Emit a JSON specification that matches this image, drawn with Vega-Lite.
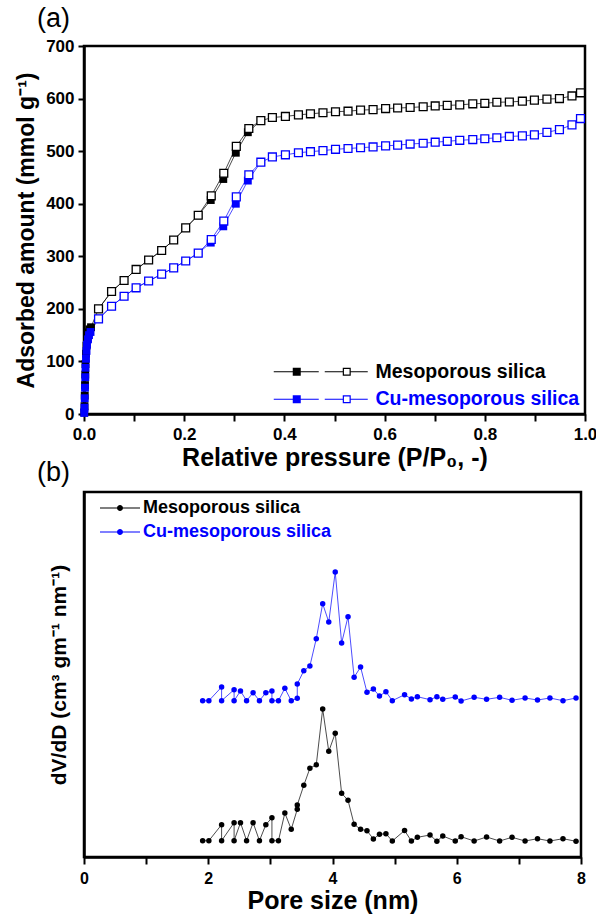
{
  "$schema": "https://vega.github.io/schema/vega-lite/v6.json",
  "padding": {"left": 13, "top": 3, "right": 6, "bottom": 2},
  "spacing": -15,
  "config": {
    "font": "Liberation Sans",
    "view": {"stroke": "black", "strokeWidth": 2.5},
    "axis": {
      "grid": false, "domainColor": "black", "domainWidth": 2.5,
      "tickColor": "black", "tickWidth": 2, "labelFlush": false,
      "labelFont": "Liberation Sans", "labelFontWeight": "bold", "labelColor": "black", "labelFontSize": 17,
      "titleFont": "Liberation Sans", "titleFontWeight": "bold", "titleColor": "black"
    }
  },
  "datasets": {
    "iso": [
      {"s":"Mesoporous silica","b":"ads","p":0.0005,"q":3},
      {"s":"Mesoporous silica","b":"ads","p":0.001,"q":15},
      {"s":"Mesoporous silica","b":"ads","p":0.0015,"q":35},
      {"s":"Mesoporous silica","b":"ads","p":0.002,"q":55},
      {"s":"Mesoporous silica","b":"ads","p":0.0025,"q":75},
      {"s":"Mesoporous silica","b":"ads","p":0.003,"q":95},
      {"s":"Mesoporous silica","b":"ads","p":0.004,"q":115},
      {"s":"Mesoporous silica","b":"ads","p":0.005,"q":130},
      {"s":"Mesoporous silica","b":"ads","p":0.007,"q":145},
      {"s":"Mesoporous silica","b":"ads","p":0.009,"q":155},
      {"s":"Mesoporous silica","b":"ads","p":0.011,"q":161},
      {"s":"Mesoporous silica","b":"ads","p":0.014,"q":165},
      {"s":"Mesoporous silica","b":"ads","p":0.029,"q":200},
      {"s":"Mesoporous silica","b":"ads","p":0.055,"q":233},
      {"s":"Mesoporous silica","b":"ads","p":0.080,"q":254},
      {"s":"Mesoporous silica","b":"ads","p":0.104,"q":275},
      {"s":"Mesoporous silica","b":"ads","p":0.129,"q":293},
      {"s":"Mesoporous silica","b":"ads","p":0.155,"q":311},
      {"s":"Mesoporous silica","b":"ads","p":0.179,"q":331},
      {"s":"Mesoporous silica","b":"ads","p":0.203,"q":354},
      {"s":"Mesoporous silica","b":"ads","p":0.228,"q":378},
      {"s":"Mesoporous silica","b":"ads","p":0.253,"q":407},
      {"s":"Mesoporous silica","b":"ads","p":0.278,"q":447},
      {"s":"Mesoporous silica","b":"ads","p":0.303,"q":497},
      {"s":"Mesoporous silica","b":"ads","p":0.327,"q":536},
      {"s":"Mesoporous silica","b":"ads","p":0.353,"q":558},
      {"s":"Mesoporous silica","b":"des","p":0.029,"q":200},
      {"s":"Mesoporous silica","b":"des","p":0.055,"q":233},
      {"s":"Mesoporous silica","b":"des","p":0.080,"q":254},
      {"s":"Mesoporous silica","b":"des","p":0.104,"q":275},
      {"s":"Mesoporous silica","b":"des","p":0.129,"q":293},
      {"s":"Mesoporous silica","b":"des","p":0.155,"q":311},
      {"s":"Mesoporous silica","b":"des","p":0.179,"q":331},
      {"s":"Mesoporous silica","b":"des","p":0.203,"q":354},
      {"s":"Mesoporous silica","b":"des","p":0.228,"q":378},
      {"s":"Mesoporous silica","b":"des","p":0.254,"q":415},
      {"s":"Mesoporous silica","b":"des","p":0.279,"q":458},
      {"s":"Mesoporous silica","b":"des","p":0.304,"q":509},
      {"s":"Mesoporous silica","b":"des","p":0.329,"q":543},
      {"s":"Mesoporous silica","b":"des","p":0.353,"q":558},
      {"s":"Mesoporous silica","b":"des","p":0.376,"q":564},
      {"s":"Mesoporous silica","b":"des","p":0.402,"q":566},
      {"s":"Mesoporous silica","b":"des","p":0.428,"q":569},
      {"s":"Mesoporous silica","b":"des","p":0.452,"q":571},
      {"s":"Mesoporous silica","b":"des","p":0.477,"q":573},
      {"s":"Mesoporous silica","b":"des","p":0.502,"q":575},
      {"s":"Mesoporous silica","b":"des","p":0.527,"q":576},
      {"s":"Mesoporous silica","b":"des","p":0.552,"q":578},
      {"s":"Mesoporous silica","b":"des","p":0.577,"q":579},
      {"s":"Mesoporous silica","b":"des","p":0.602,"q":581},
      {"s":"Mesoporous silica","b":"des","p":0.626,"q":582},
      {"s":"Mesoporous silica","b":"des","p":0.651,"q":583},
      {"s":"Mesoporous silica","b":"des","p":0.677,"q":584.5},
      {"s":"Mesoporous silica","b":"des","p":0.701,"q":586},
      {"s":"Mesoporous silica","b":"des","p":0.725,"q":587},
      {"s":"Mesoporous silica","b":"des","p":0.750,"q":588},
      {"s":"Mesoporous silica","b":"des","p":0.776,"q":590},
      {"s":"Mesoporous silica","b":"des","p":0.800,"q":591},
      {"s":"Mesoporous silica","b":"des","p":0.824,"q":593},
      {"s":"Mesoporous silica","b":"des","p":0.849,"q":593.5},
      {"s":"Mesoporous silica","b":"des","p":0.875,"q":595},
      {"s":"Mesoporous silica","b":"des","p":0.899,"q":597},
      {"s":"Mesoporous silica","b":"des","p":0.924,"q":599},
      {"s":"Mesoporous silica","b":"des","p":0.949,"q":600},
      {"s":"Mesoporous silica","b":"des","p":0.974,"q":605},
      {"s":"Mesoporous silica","b":"des","p":0.991,"q":611},
      {"s":"Cu-mesoporous silica","b":"ads","p":0.0005,"q":2},
      {"s":"Cu-mesoporous silica","b":"ads","p":0.001,"q":12},
      {"s":"Cu-mesoporous silica","b":"ads","p":0.0015,"q":30},
      {"s":"Cu-mesoporous silica","b":"ads","p":0.002,"q":50},
      {"s":"Cu-mesoporous silica","b":"ads","p":0.0025,"q":70},
      {"s":"Cu-mesoporous silica","b":"ads","p":0.003,"q":88},
      {"s":"Cu-mesoporous silica","b":"ads","p":0.004,"q":105},
      {"s":"Cu-mesoporous silica","b":"ads","p":0.005,"q":120},
      {"s":"Cu-mesoporous silica","b":"ads","p":0.006,"q":132},
      {"s":"Cu-mesoporous silica","b":"ads","p":0.008,"q":142},
      {"s":"Cu-mesoporous silica","b":"ads","p":0.010,"q":150},
      {"s":"Cu-mesoporous silica","b":"ads","p":0.013,"q":156},
      {"s":"Cu-mesoporous silica","b":"ads","p":0.029,"q":181},
      {"s":"Cu-mesoporous silica","b":"ads","p":0.055,"q":205},
      {"s":"Cu-mesoporous silica","b":"ads","p":0.080,"q":224},
      {"s":"Cu-mesoporous silica","b":"ads","p":0.104,"q":240},
      {"s":"Cu-mesoporous silica","b":"ads","p":0.129,"q":253},
      {"s":"Cu-mesoporous silica","b":"ads","p":0.155,"q":266},
      {"s":"Cu-mesoporous silica","b":"ads","p":0.179,"q":278},
      {"s":"Cu-mesoporous silica","b":"ads","p":0.203,"q":291},
      {"s":"Cu-mesoporous silica","b":"ads","p":0.228,"q":306},
      {"s":"Cu-mesoporous silica","b":"ads","p":0.253,"q":326},
      {"s":"Cu-mesoporous silica","b":"ads","p":0.278,"q":357},
      {"s":"Cu-mesoporous silica","b":"ads","p":0.303,"q":400},
      {"s":"Cu-mesoporous silica","b":"ads","p":0.327,"q":444},
      {"s":"Cu-mesoporous silica","b":"ads","p":0.353,"q":479},
      {"s":"Cu-mesoporous silica","b":"des","p":0.029,"q":181},
      {"s":"Cu-mesoporous silica","b":"des","p":0.055,"q":205},
      {"s":"Cu-mesoporous silica","b":"des","p":0.080,"q":224},
      {"s":"Cu-mesoporous silica","b":"des","p":0.104,"q":240},
      {"s":"Cu-mesoporous silica","b":"des","p":0.129,"q":253},
      {"s":"Cu-mesoporous silica","b":"des","p":0.155,"q":266},
      {"s":"Cu-mesoporous silica","b":"des","p":0.179,"q":278},
      {"s":"Cu-mesoporous silica","b":"des","p":0.203,"q":291},
      {"s":"Cu-mesoporous silica","b":"des","p":0.228,"q":306},
      {"s":"Cu-mesoporous silica","b":"des","p":0.254,"q":332},
      {"s":"Cu-mesoporous silica","b":"des","p":0.279,"q":367},
      {"s":"Cu-mesoporous silica","b":"des","p":0.304,"q":413},
      {"s":"Cu-mesoporous silica","b":"des","p":0.329,"q":455},
      {"s":"Cu-mesoporous silica","b":"des","p":0.353,"q":479},
      {"s":"Cu-mesoporous silica","b":"des","p":0.376,"q":489},
      {"s":"Cu-mesoporous silica","b":"des","p":0.402,"q":493},
      {"s":"Cu-mesoporous silica","b":"des","p":0.428,"q":497},
      {"s":"Cu-mesoporous silica","b":"des","p":0.452,"q":499},
      {"s":"Cu-mesoporous silica","b":"des","p":0.477,"q":501},
      {"s":"Cu-mesoporous silica","b":"des","p":0.502,"q":503.5},
      {"s":"Cu-mesoporous silica","b":"des","p":0.527,"q":505},
      {"s":"Cu-mesoporous silica","b":"des","p":0.552,"q":506.5},
      {"s":"Cu-mesoporous silica","b":"des","p":0.577,"q":508},
      {"s":"Cu-mesoporous silica","b":"des","p":0.602,"q":510},
      {"s":"Cu-mesoporous silica","b":"des","p":0.626,"q":511.5},
      {"s":"Cu-mesoporous silica","b":"des","p":0.651,"q":513.5},
      {"s":"Cu-mesoporous silica","b":"des","p":0.677,"q":515},
      {"s":"Cu-mesoporous silica","b":"des","p":0.701,"q":517},
      {"s":"Cu-mesoporous silica","b":"des","p":0.725,"q":518.7},
      {"s":"Cu-mesoporous silica","b":"des","p":0.750,"q":520.6},
      {"s":"Cu-mesoporous silica","b":"des","p":0.776,"q":522},
      {"s":"Cu-mesoporous silica","b":"des","p":0.800,"q":523.6},
      {"s":"Cu-mesoporous silica","b":"des","p":0.824,"q":525.5},
      {"s":"Cu-mesoporous silica","b":"des","p":0.849,"q":528},
      {"s":"Cu-mesoporous silica","b":"des","p":0.875,"q":529},
      {"s":"Cu-mesoporous silica","b":"des","p":0.899,"q":531},
      {"s":"Cu-mesoporous silica","b":"des","p":0.924,"q":535.7},
      {"s":"Cu-mesoporous silica","b":"des","p":0.949,"q":541},
      {"s":"Cu-mesoporous silica","b":"des","p":0.974,"q":550},
      {"s":"Cu-mesoporous silica","b":"des","p":0.991,"q":562}
    ],
    "psd": [
      {"s":"Mesoporous silica","d":1.91,"v":0.163},
      {"s":"Mesoporous silica","d":2.01,"v":0.163},
      {"s":"Mesoporous silica","d":2.215,"v":0.323},
      {"s":"Mesoporous silica","d":2.215,"v":0.163},
      {"s":"Mesoporous silica","d":2.416,"v":0.343},
      {"s":"Mesoporous silica","d":2.416,"v":0.163},
      {"s":"Mesoporous silica","d":2.519,"v":0.343},
      {"s":"Mesoporous silica","d":2.617,"v":0.163},
      {"s":"Mesoporous silica","d":2.722,"v":0.343},
      {"s":"Mesoporous silica","d":2.824,"v":0.163},
      {"s":"Mesoporous silica","d":2.927,"v":0.323},
      {"s":"Mesoporous silica","d":3.025,"v":0.393},
      {"s":"Mesoporous silica","d":3.025,"v":0.163},
      {"s":"Mesoporous silica","d":3.13,"v":0.163},
      {"s":"Mesoporous silica","d":3.233,"v":0.44},
      {"s":"Mesoporous silica","d":3.336,"v":0.277},
      {"s":"Mesoporous silica","d":3.433,"v":0.477},
      {"s":"Mesoporous silica","d":3.433,"v":0.52},
      {"s":"Mesoporous silica","d":3.538,"v":0.717},
      {"s":"Mesoporous silica","d":3.636,"v":0.887},
      {"s":"Mesoporous silica","d":3.739,"v":0.923},
      {"s":"Mesoporous silica","d":3.842,"v":1.48},
      {"s":"Mesoporous silica","d":3.94,"v":1.057},
      {"s":"Mesoporous silica","d":4.044,"v":1.237},
      {"s":"Mesoporous silica","d":4.147,"v":0.637},
      {"s":"Mesoporous silica","d":4.25,"v":0.567},
      {"s":"Mesoporous silica","d":4.348,"v":0.327},
      {"s":"Mesoporous silica","d":4.452,"v":0.277},
      {"s":"Mesoporous silica","d":4.555,"v":0.263},
      {"s":"Mesoporous silica","d":4.658,"v":0.18},
      {"s":"Mesoporous silica","d":4.756,"v":0.227},
      {"s":"Mesoporous silica","d":4.86,"v":0.233},
      {"s":"Mesoporous silica","d":4.963,"v":0.16},
      {"s":"Mesoporous silica","d":5.16,"v":0.265},
      {"s":"Mesoporous silica","d":5.27,"v":0.16},
      {"s":"Mesoporous silica","d":5.366,"v":0.197},
      {"s":"Mesoporous silica","d":5.57,"v":0.22},
      {"s":"Mesoporous silica","d":5.68,"v":0.157},
      {"s":"Mesoporous silica","d":5.775,"v":0.21},
      {"s":"Mesoporous silica","d":5.976,"v":0.16},
      {"s":"Mesoporous silica","d":6.07,"v":0.203},
      {"s":"Mesoporous silica","d":6.28,"v":0.16},
      {"s":"Mesoporous silica","d":6.48,"v":0.2},
      {"s":"Mesoporous silica","d":6.69,"v":0.16},
      {"s":"Mesoporous silica","d":6.89,"v":0.197},
      {"s":"Mesoporous silica","d":7.1,"v":0.16},
      {"s":"Mesoporous silica","d":7.3,"v":0.183},
      {"s":"Mesoporous silica","d":7.5,"v":0.16},
      {"s":"Mesoporous silica","d":7.71,"v":0.183},
      {"s":"Mesoporous silica","d":7.92,"v":0.157},
      {"s":"Cu-mesoporous silica","d":1.91,"v":1.563},
      {"s":"Cu-mesoporous silica","d":2.01,"v":1.563},
      {"s":"Cu-mesoporous silica","d":2.215,"v":1.70},
      {"s":"Cu-mesoporous silica","d":2.215,"v":1.563},
      {"s":"Cu-mesoporous silica","d":2.416,"v":1.673},
      {"s":"Cu-mesoporous silica","d":2.416,"v":1.563},
      {"s":"Cu-mesoporous silica","d":2.519,"v":1.66},
      {"s":"Cu-mesoporous silica","d":2.617,"v":1.563},
      {"s":"Cu-mesoporous silica","d":2.722,"v":1.643},
      {"s":"Cu-mesoporous silica","d":2.824,"v":1.563},
      {"s":"Cu-mesoporous silica","d":2.927,"v":1.643},
      {"s":"Cu-mesoporous silica","d":3.025,"v":1.66},
      {"s":"Cu-mesoporous silica","d":3.025,"v":1.563},
      {"s":"Cu-mesoporous silica","d":3.13,"v":1.563},
      {"s":"Cu-mesoporous silica","d":3.233,"v":1.687},
      {"s":"Cu-mesoporous silica","d":3.336,"v":1.563},
      {"s":"Cu-mesoporous silica","d":3.433,"v":1.587},
      {"s":"Cu-mesoporous silica","d":3.433,"v":1.73},
      {"s":"Cu-mesoporous silica","d":3.538,"v":1.863},
      {"s":"Cu-mesoporous silica","d":3.636,"v":1.91},
      {"s":"Cu-mesoporous silica","d":3.739,"v":2.183},
      {"s":"Cu-mesoporous silica","d":3.842,"v":2.533},
      {"s":"Cu-mesoporous silica","d":3.94,"v":2.35},
      {"s":"Cu-mesoporous silica","d":4.044,"v":2.85},
      {"s":"Cu-mesoporous silica","d":4.147,"v":2.14},
      {"s":"Cu-mesoporous silica","d":4.25,"v":2.403},
      {"s":"Cu-mesoporous silica","d":4.348,"v":1.797},
      {"s":"Cu-mesoporous silica","d":4.452,"v":1.90},
      {"s":"Cu-mesoporous silica","d":4.555,"v":1.647},
      {"s":"Cu-mesoporous silica","d":4.658,"v":1.68},
      {"s":"Cu-mesoporous silica","d":4.756,"v":1.61},
      {"s":"Cu-mesoporous silica","d":4.86,"v":1.653},
      {"s":"Cu-mesoporous silica","d":4.963,"v":1.563},
      {"s":"Cu-mesoporous silica","d":5.16,"v":1.623},
      {"s":"Cu-mesoporous silica","d":5.27,"v":1.58},
      {"s":"Cu-mesoporous silica","d":5.366,"v":1.603},
      {"s":"Cu-mesoporous silica","d":5.57,"v":1.573},
      {"s":"Cu-mesoporous silica","d":5.68,"v":1.603},
      {"s":"Cu-mesoporous silica","d":5.775,"v":1.577},
      {"s":"Cu-mesoporous silica","d":5.976,"v":1.60},
      {"s":"Cu-mesoporous silica","d":6.07,"v":1.56},
      {"s":"Cu-mesoporous silica","d":6.28,"v":1.597},
      {"s":"Cu-mesoporous silica","d":6.48,"v":1.577},
      {"s":"Cu-mesoporous silica","d":6.69,"v":1.597},
      {"s":"Cu-mesoporous silica","d":6.89,"v":1.567},
      {"s":"Cu-mesoporous silica","d":7.1,"v":1.59},
      {"s":"Cu-mesoporous silica","d":7.3,"v":1.57},
      {"s":"Cu-mesoporous silica","d":7.5,"v":1.59},
      {"s":"Cu-mesoporous silica","d":7.71,"v":1.563},
      {"s":"Cu-mesoporous silica","d":7.92,"v":1.59}
    ]
  },
  "vconcat": [
    {
      "width": 501,
      "height": 368,
      "title": {"text": "(a)", "anchor": "start", "frame": "group", "dx": -47, "offset": 4, "fontSize": 27, "fontWeight": "normal", "font": "Liberation Sans", "color": "black"},
      "data": {"name": "iso"},
      "encoding": {
        "x": {"field": "p", "type": "quantitative", "scale": {"domain": [0, 1], "nice": false},
          "axis": {"values": [0, 0.1, 0.2, 0.3, 0.4, 0.5, 0.6, 0.7, 0.8, 0.9, 1],
            "labelExpr": "round(datum.value*10) % 2 == 0 ? format(datum.value, '.1f') : ''",
            "title": "Relative pressure (P/P₀, -)", "titleFontSize": 25, "titlePadding": 3,
            "tickSize": 7, "labelPadding": 5}},
        "y": {"field": "q", "type": "quantitative", "scale": {"domain": [0, 700], "nice": false},
          "axis": {"values": [0, 100, 200, 300, 400, 500, 600, 700],
            "title": "Adsorbed amount (mmol g⁻¹)", "titleFontSize": 23, "titlePadding": 6,
            "tickSize": 6, "labelPadding": 4, "minExtent": 40, "maxExtent": 40}}
      },
      "layer": [
        {
          "mark": {"type": "line", "strokeWidth": 1, "opacity": 0.7},
          "encoding": {
            "detail": {"field": "b"},
            "stroke": {"field": "s", "type": "nominal", "legend": null,
              "scale": {"domain": ["Mesoporous silica", "Cu-mesoporous silica"], "range": ["#000000", "#0000ff"]}}
          }
        },
        {
          "transform": [{"filter": "datum.b == 'ads'"}],
          "mark": {"type": "point", "shape": "square", "size": 62, "filled": true, "opacity": 1},
          "encoding": {
            "color": {"field": "s", "type": "nominal",
              "scale": {"domain": ["Mesoporous silica", "Cu-mesoporous silica"], "range": ["#000000", "#0000ff"]},
              "legend": {
                "title": null, "orient": "bottom-right", "offset": 5, "padding": 0,
                "symbolType": "M0,-0.5H45V0.5H0ZM19,-4H27V4H19ZM51,-0.5H69V0.5H51ZM77,-0.5H94V0.5H77ZM69,-4H77V4H69ZM70.2,-2.8V2.8H75.8V-2.8Z",
                "symbolSize": 4, "symbolStrokeWidth": 0, "symbolOpacity": 1,
                "labelOffset": 92, "labelFontSize": 19.5, "labelFontWeight": "bold", "labelFont": "Liberation Sans", "labelLimit": 320,
                "labelColor": {"expr": "datum.value == 'Cu-mesoporous silica' ? '#0000ff' : '#000000'"},
                "rowPadding": 6.5
              }}
          }
        },
        {
          "transform": [{"filter": "datum.b == 'des'"}],
          "mark": {"type": "point", "shape": "square", "size": 62, "filled": false, "fill": "white", "strokeWidth": 1.3, "opacity": 1},
          "encoding": {
            "stroke": {"field": "s", "type": "nominal", "legend": null,
              "scale": {"domain": ["Mesoporous silica", "Cu-mesoporous silica"], "range": ["#000000", "#0000ff"]}}
          }
        }
      ]
    },
    {
      "width": 497,
      "height": 365,
      "title": {"text": "(b)", "anchor": "start", "frame": "group", "dx": -47, "offset": 5, "fontSize": 27, "fontWeight": "normal", "font": "Liberation Sans", "color": "black"},
      "data": {"name": "psd"},
      "encoding": {
        "x": {"field": "d", "type": "quantitative", "scale": {"domain": [0, 8], "nice": false},
          "axis": {"values": [0, 1, 2, 3, 4, 5, 6, 7, 8],
            "labelExpr": "datum.value % 2 == 0 ? datum.label : ''",
            "title": "Pore size (nm)", "titleFontSize": 25, "titlePadding": 2,
            "tickSize": 7, "labelPadding": 6, "labelFontSize": 16}},
        "y": {"field": "v", "type": "quantitative", "scale": {"domain": [0, 3.65], "nice": false},
          "axis": {"ticks": false, "labels": false, "title": "dV/dD (cm³ gm⁻¹ nm⁻¹)", "titleFontSize": 21, "titlePadding": 15, "minExtent": 0, "maxExtent": 0}}
      },
      "layer": [
        {
          "mark": {"type": "line", "strokeWidth": 1, "opacity": 0.7},
          "encoding": {
            "stroke": {"field": "s", "type": "nominal", "legend": null,
              "scale": {"domain": ["Mesoporous silica", "Cu-mesoporous silica"], "range": ["#000000", "#0000ff"]}}
          }
        },
        {
          "mark": {"type": "point", "shape": "circle", "size": 30, "filled": true, "opacity": 1},
          "encoding": {
            "color": {"field": "s", "type": "nominal",
              "scale": {"domain": ["Mesoporous silica", "Cu-mesoporous silica"], "range": ["#000000", "#0000ff"]},
              "legend": {
                "title": null, "orient": "top-left", "offset": 7, "padding": 0,
                "symbolType": "M0,-0.5H40V0.5H0ZM17,0A3,3 0 1,1 23,0A3,3 0 1,1 17,0Z",
                "symbolSize": 4, "symbolStrokeWidth": 0, "symbolOpacity": 1,
                "labelOffset": 34, "labelFontSize": 18, "labelFontWeight": "bold", "labelFont": "Liberation Sans", "labelLimit": 320,
                "labelColor": {"expr": "datum.value == 'Cu-mesoporous silica' ? '#0000ff' : '#000000'"},
                "rowPadding": 6
              }}
          }
        }
      ]
    }
  ]
}
